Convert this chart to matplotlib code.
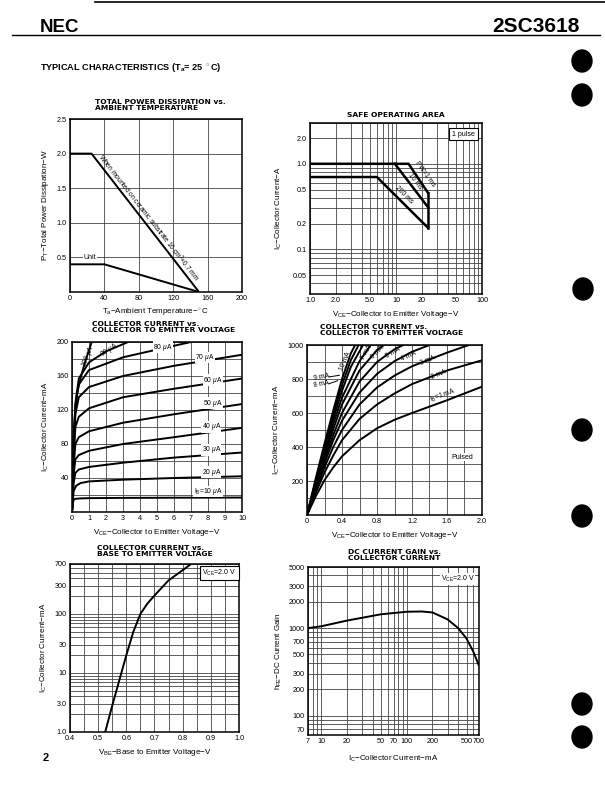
import matplotlib
matplotlib.use("Agg")
import matplotlib.pyplot as plt
from matplotlib.patches import Ellipse
from matplotlib.lines import Line2D
from matplotlib.ticker import NullFormatter, FixedLocator

W, H = 605, 788
plt.rcParams['font.family'] = ['Liberation Sans', 'DejaVu Sans']
plt.rcParams['mathtext.fontset'] = 'custom'
plt.rcParams['mathtext.rm'] = 'Liberation Sans'
plt.rcParams['mathtext.it'] = 'Liberation Sans:italic'
plt.rcParams['mathtext.bf'] = 'Liberation Sans:bold'

# ---------------- data ----------------
# Total power dissipation vs ambient temperature
pd_temp_substrate = [0, 25, 150]
pd_power_substrate = [2.0, 2.0, 0.0]
pd_temp_unit = [0, 40, 150]
pd_power_unit = [0.4, 0.4, 0.0]

# Safe operating area
soa_1ms_v = [1.0, 14, 23.6]
soa_1ms_i = [1.0, 1.0, 0.456]
soa_10ms_v = [9.7, 23.6]
soa_10ms_i = [1.0, 0.31]
soa_200ms_v = [1.0, 6.0, 23.6]
soa_200ms_i = [0.7, 0.7, 0.178]
soa_limit_v = [23.6, 23.6]
soa_limit_i = [0.456, 0.178]

# Ic vs Vce (uA base currents)
ib_ua_labels = [10, 20, 30, 40, 50, 60, 70, 80, 90, 100]
vce_small = {
    10: [0, 0.08, 0.2, 0.5, 1, 3, 6, 10],
    20: [0, 0.1, 0.25, 0.5, 1, 3, 6, 10],
    30: [0, 0.1, 0.2, 0.4, 1, 3, 6, 10],
    40: [0, 0.1, 0.2, 0.4, 1, 3, 6, 10],
    50: [0, 0.1, 0.2, 0.4, 1, 3, 6, 10],
    60: [0, 0.1, 0.2, 0.4, 1, 3, 6, 10],
    70: [0, 0.1, 0.2, 0.4, 1, 3, 6, 10],
    80: [0, 0.1, 0.2, 0.4, 1, 3, 5.2, 7.0],
    90: [0, 0.1, 0.2, 0.4, 1, 2, 3.3],
    100: [0, 0.1, 0.18, 0.3, 0.47, 0.76, 1.16],
}
ic_small = {
    10: [0, 14, 15.5, 16, 16.3, 16.6, 16.8, 17],
    20: [0, 25, 31, 34, 36, 38, 40, 42],
    30: [0, 35, 46, 50, 53, 58, 64, 70],
    40: [0, 45, 62, 67, 72, 80, 88, 99],
    50: [0, 55, 80, 88, 95, 105, 115, 127],
    60: [0, 65, 100, 112, 122, 135, 145, 157],
    70: [0, 72, 115, 135, 147, 160, 172, 185],
    80: [0, 80, 125, 150, 167, 182, 192, 200],
    90: [0, 85, 128, 157, 176, 189, 200],
    100: [0, 90, 116, 140, 155, 176, 200],
}

# Ic vs Vce (mA base currents, pulsed)
ib_ma_labels = [1, 2, 3, 4, 5, 6, 7, 8, 9, 10]
vce_large = {
    1: [0, 0.1, 0.2, 0.3, 0.4, 0.6, 0.8, 1.0, 1.2, 1.6, 2.0],
    2: [0, 0.1, 0.2, 0.3, 0.4, 0.6, 0.8, 1.0, 1.2, 1.6, 2.0],
    3: [0, 0.1, 0.2, 0.3, 0.4, 0.6, 0.8, 1.0, 1.2, 1.6, 1.85],
    4: [0, 0.1, 0.2, 0.3, 0.4, 0.6, 0.8, 1.0, 1.2, 1.4],
    5: [0, 0.1, 0.2, 0.3, 0.4, 0.6, 0.8, 1.0, 1.1],
    6: [0, 0.1, 0.2, 0.3, 0.4, 0.6, 0.8, 0.88],
    7: [0, 0.1, 0.2, 0.3, 0.4, 0.6, 0.73],
    8: [0, 0.1, 0.2, 0.3, 0.4, 0.5, 0.64],
    9: [0, 0.1, 0.2, 0.3, 0.4, 0.5, 0.59],
    10: [0, 0.1, 0.2, 0.3, 0.4, 0.5, 0.55],
}
ic_large = {
    1: [0, 110, 205, 280, 345, 440, 510, 560, 600, 675, 755],
    2: [0, 130, 250, 350, 440, 565, 650, 715, 770, 850, 910],
    3: [0, 145, 280, 400, 500, 650, 750, 820, 875, 955, 1000],
    4: [0, 155, 305, 440, 555, 720, 830, 905, 960, 1000],
    5: [0, 165, 325, 470, 600, 785, 900, 975, 1000],
    6: [0, 175, 345, 505, 650, 850, 970, 1000],
    7: [0, 185, 365, 535, 690, 905, 1000],
    8: [0, 195, 385, 565, 730, 870, 1000],
    9: [0, 205, 400, 590, 765, 910, 1000],
    10: [0, 215, 420, 615, 800, 950, 1000],
}

# Ic vs Vbe
vbe_values = [0.525, 0.55, 0.575, 0.60, 0.625, 0.65, 0.675, 0.70, 0.75, 0.80, 0.83]
ic_vbe_values = [1.0, 2.8, 7.5, 20, 50, 100, 150, 205, 370, 550, 700]

# hFE vs Ic
hfe_ic_values = [7, 10, 20, 50, 100, 150, 200, 300, 400, 500, 600, 700]
hfe_values = [1000, 1050, 1220, 1440, 1540, 1550, 1510, 1260, 1000, 760, 540, 370]

# ---------------- figure ----------------
fig = plt.figure(figsize=(W / 100, H / 100), dpi=100)


def fx(x):
    return x / W


def fy(y):
    return 1 - y / H


def add_ax(l, t, r, b):
    return fig.add_axes([l / W, 1 - b / H, (r - l) / W, (b - t) / H])


GRID = dict(color='#444444', linewidth=0.6)
CURVE = dict(color='black', linewidth=1.4, solid_capstyle='butt')
TICKFS = 5.2
LABFS = 5.8
TITFS = 5.4
LFS = 4.9


def style(ax):
    for s in ax.spines.values():
        s.set_linewidth(1.1)
    ax.tick_params(which='both', length=0, labelsize=TICKFS, pad=2.5)
    ax.set_axisbelow(True)


def fig_title(x, y, lines):
    fig.text(fx(x), fy(y), lines, fontsize=TITFS, fontweight='bold',
             family='DejaVu Sans', ha='left', va='top', linespacing=1.05)


# Header
fig.text(fx(40), fy(27), 'NEC', fontsize=13.5, fontweight='bold', ha='left', va='center')
fig.text(fx(580), fy(27), '2SC3618', fontsize=15, fontweight='bold', ha='right', va='center')
fig.add_artist(Line2D([fx(95), 1], [fy(2), fy(2)], color='black', linewidth=1.2))
fig.add_artist(Line2D([fx(12), fx(600)], [fy(35), fy(35)], color='black', linewidth=1.0))
fig.text(fx(40), fy(68), r'TYPICAL CHARACTERISTICS (T$_\mathbf{a}$= 25 $^\circ$C)',
         fontsize=6.6, fontweight='bold', ha='left', va='center')
fig.text(fx(43), fy(758), '2', fontsize=8, fontweight='bold', ha='left', va='center')

for (cx, cy) in [(582, 61), (582, 95), (583, 289), (582, 430), (582, 516), (582, 704), (582, 737)]:
    fig.add_artist(Ellipse((fx(cx), fy(cy)), 20 / W, 22 / H, color='black'))

# ---------- 1: power dissipation ----------
ax1 = add_ax(70, 119, 242, 292)
style(ax1)
ax1.set_xlim(0, 200)
ax1.set_ylim(0, 2.5)
ax1.set_xticks([0, 40, 80, 120, 160, 200])
ax1.set_yticks([0.5, 1.0, 1.5, 2.0, 2.5])
ax1.set_yticklabels(['0.5', '1.0', '1.5', '2.0', '2.5'])
ax1.grid(True, **GRID)
ax1.plot(pd_temp_substrate, pd_power_substrate, **CURVE)
ax1.plot(pd_temp_unit, pd_power_unit, **CURVE)
ax1.text(91, 1.07, r'When mounted on ceramic substrate 16 cm$^2$$\times$0.7 mm',
         fontsize=4.8, rotation=-52, ha='center', va='center', rotation_mode='anchor')
ax1.text(23, 0.5, 'Unit', fontsize=5, ha='center', va='center',
         bbox=dict(facecolor='white', edgecolor='none', pad=0.3))
ax1.set_ylabel(r'P$_\mathrm{T}$$-$Total Power Dissipation$-$W', fontsize=LABFS, labelpad=4)
ax1.set_xlabel(r'T$_\mathrm{a}$$-$Ambient Temperature$-^\circ$C', fontsize=LABFS, labelpad=3)
fig_title(95, 99, 'TOTAL POWER DISSIPATION vs.\nAMBIENT TEMPERATURE')

# ---------- 2: SOA ----------
ax2 = add_ax(310, 123, 482, 294)
style(ax2)
ax2.set_xscale('log')
ax2.set_yscale('log')
ax2.set_xlim(1, 100)
ax2.set_ylim(0.03, 3.0)
ax2.xaxis.set_major_locator(FixedLocator([1, 2, 5, 10, 20, 50, 100]))
ax2.set_xticklabels(['1.0', '2.0', '5.0', '10', '20', '50', '100'])
ax2.xaxis.set_minor_locator(FixedLocator([3, 4, 6, 7, 8, 9, 30, 40, 60, 70, 80, 90]))
ax2.yaxis.set_major_locator(FixedLocator([0.05, 0.1, 0.2, 0.5, 1.0, 2.0]))
ax2.set_yticklabels(['0.05', '0.1', '0.2', '0.5', '1.0', '2.0'])
ax2.yaxis.set_minor_locator(FixedLocator([0.03, 0.04, 0.06, 0.07, 0.08, 0.09, 0.3, 0.4,
                                          0.6, 0.7, 0.8, 0.9, 3.0]))
ax2.xaxis.set_minor_formatter(NullFormatter())
ax2.yaxis.set_minor_formatter(NullFormatter())
ax2.grid(True, which='both', **GRID)
SOA = dict(color='black', linewidth=1.8)
ax2.plot(soa_1ms_v, soa_1ms_i, **SOA)
ax2.plot(soa_10ms_v, soa_10ms_i, **SOA)
ax2.plot(soa_200ms_v, soa_200ms_i, **SOA)
ax2.plot(soa_limit_v, soa_limit_i, **SOA)
ax2.text(21.6, 0.76, 'PW=1 ms', fontsize=LFS, rotation=-54, ha='center', va='center')
ax2.text(16.8, 0.63, '10 ms', fontsize=LFS, rotation=-52, ha='center', va='center')
ax2.text(12.3, 0.43, '200 ms', fontsize=LFS, rotation=-45, ha='center', va='center')
ax2.text(0.96, 0.955, '1 pulse', transform=ax2.transAxes, fontsize=5, ha='right', va='top',
         bbox=dict(facecolor='white', edgecolor='black', linewidth=0.8, pad=2.0))
ax2.set_ylabel(r'I$_\mathrm{C}$$-$Collector Current$-$A', fontsize=LABFS, labelpad=6)
ax2.set_xlabel(r'V$_\mathrm{CE}$$-$Collector to Emitter Voltage$-$V', fontsize=LABFS, labelpad=3)
fig.text(fx(396), fy(115), 'SAFE OPERATING AREA', fontsize=TITFS, fontweight='bold',
         family='DejaVu Sans', ha='center', va='center')

# ---------- 3: Ic vs Vce (uA) ----------
ax3 = add_ax(72, 342, 242, 512)
style(ax3)
ax3.set_xlim(0, 10)
ax3.set_ylim(0, 200)
ax3.set_xticks(range(0, 11))
ax3.set_yticks([40, 80, 120, 160, 200])
ax3.yaxis.set_minor_locator(FixedLocator([20, 60, 100, 140, 180]))
ax3.grid(True, which='both', **GRID)
for ib in ib_ua_labels:
    ax3.plot(vce_small[ib], ic_small[ib], **CURVE)
LB = dict(facecolor='white', edgecolor='none', pad=0.2)
ax3.text(0.95, 183, r'100 $\mu$A', fontsize=LFS, rotation=68, ha='center', va='center')
ax3.text(2.2, 190, r'90 $\mu$A', fontsize=LFS, rotation=33, ha='center', va='center')
for (x, y, s) in [(5.35, 194, r'80 $\mu$A'), (7.8, 182, r'70 $\mu$A'), (8.3, 155, r'60 $\mu$A'),
                  (8.3, 128, r'50 $\mu$A'), (8.2, 100, r'40 $\mu$A'), (8.2, 73, r'30 $\mu$A'),
                  (8.2, 47, r'20 $\mu$A'), (8.0, 24, r'I$_\mathrm{B}$=10 $\mu$A')]:
    ax3.text(x, y, s, fontsize=LFS, ha='center', va='center', bbox=LB)
ax3.set_ylabel(r'I$_\mathrm{C}$$-$Collector Current$-$mA', fontsize=LABFS, labelpad=4)
ax3.set_xlabel(r'V$_\mathrm{CE}$$-$Collector to Emitter Voltage$-$V', fontsize=LABFS, labelpad=3)
fig_title(92, 321, 'COLLECTOR CURRENT vs.\nCOLLECTOR TO EMITTER VOLTAGE')

# ---------- 4: Ic vs Vce (mA) ----------
ax4 = add_ax(307, 345, 482, 515)
style(ax4)
ax4.set_xlim(0, 2.0)
ax4.set_ylim(0, 1000)
ax4.set_xticks([0, 0.4, 0.8, 1.2, 1.6, 2.0])
ax4.set_xticklabels(['0', '0.4', '0.8', '1.2', '1.6', '2.0'])
ax4.xaxis.set_minor_locator(FixedLocator([0.2, 0.6, 1.0, 1.4, 1.8]))
ax4.set_yticks([200, 400, 600, 800, 1000])
ax4.yaxis.set_minor_locator(FixedLocator([100, 300, 500, 700, 900]))
ax4.grid(True, which='both', **GRID)
for ib in ib_ma_labels:
    ax4.plot(vce_large[ib], ic_large[ib], **CURVE)
ax4.text(0.44, 905, '10 mA', fontsize=LFS, rotation=68, ha='center', va='center')
ax4.text(0.68, 955, '7 mA', fontsize=LFS, rotation=60, ha='center', va='center')
ax4.text(0.81, 955, '6 mA', fontsize=LFS, rotation=45, ha='center', va='center')
ax4.text(0.98, 955, '5 mA', fontsize=LFS, rotation=30, ha='center', va='center')
ax4.text(1.16, 935, '4 mA', fontsize=LFS, rotation=25, ha='center', va='center')
ax4.text(1.38, 905, '3 mA', fontsize=LFS, rotation=22, ha='center', va='center')
ax4.text(1.5, 825, '2 mA', fontsize=LFS, rotation=22, ha='center', va='center')
ax4.text(1.55, 705, r'I$_\mathrm{B}$=1 mA', fontsize=LFS, rotation=20, ha='center', va='center')
ax4.text(0.17, 808, '9 mA', fontsize=LFS, rotation=10, ha='center', va='center')
ax4.text(0.17, 768, '8 mA', fontsize=LFS, rotation=10, ha='center', va='center')
ax4.plot([0.25, 0.37], [812, 822], color='black', linewidth=0.7)
ax4.plot([0.25, 0.35], [772, 790], color='black', linewidth=0.7)
ax4.text(1.78, 340, 'Pulsed', fontsize=5, ha='center', va='center', bbox=LB)
ax4.set_ylabel(r'I$_\mathrm{C}$$-$Collector Current$-$mA', fontsize=LABFS, labelpad=4)
ax4.set_xlabel(r'V$_\mathrm{CE}$$-$Collector to Emitter Voltage$-$V', fontsize=LABFS, labelpad=3)
fig_title(320, 324, 'COLLECTOR CURRENT vs.\nCOLLECTOR TO EMITTER VOLTAGE')

# ---------- 5: Ic vs Vbe ----------
ax5 = add_ax(70, 564, 239, 732)
style(ax5)
ax5.set_yscale('log')
ax5.set_xlim(0.4, 1.0)
ax5.set_ylim(1.0, 700)
ax5.set_xticks([0.4, 0.5, 0.6, 0.7, 0.8, 0.9, 1.0])
ax5.set_xticklabels(['0.4', '0.5', '0.6', '0.7', '0.8', '0.9', '1.0'])
ax5.xaxis.set_minor_locator(FixedLocator([0.45, 0.55, 0.65, 0.75, 0.85, 0.95]))
ax5.yaxis.set_major_locator(FixedLocator([1, 3, 10, 30, 100, 300, 700]))
ax5.set_yticklabels(['1.0', '3.0', '10', '30', '100', '300', '700'])
ax5.yaxis.set_minor_locator(FixedLocator([2, 4, 5, 6, 7, 8, 9, 20, 40, 50, 60, 70, 80, 90,
                                          200, 400, 500, 600]))
ax5.yaxis.set_minor_formatter(NullFormatter())
ax5.grid(True, which='both', **GRID)
ax5.plot(vbe_values, ic_vbe_values, **CURVE)
ax5.text(0.985, 0.975, r'V$_\mathrm{CE}$=2.0 V', transform=ax5.transAxes, fontsize=5,
         ha='right', va='top',
         bbox=dict(facecolor='white', edgecolor='black', linewidth=0.8, pad=1.5))
ax5.set_ylabel(r'I$_\mathrm{C}$$-$Collector Current$-$mA', fontsize=LABFS, labelpad=4)
ax5.set_xlabel(r'V$_\mathrm{BE}$$-$Base to Emitter Voltage$-$V', fontsize=LABFS, labelpad=3)
fig_title(97, 545, 'COLLECTOR CURRENT vs.\nBASE TO EMITTER VOLTAGE')

# ---------- 6: hFE vs Ic ----------
ax6 = add_ax(308, 567, 479, 735)
style(ax6)
ax6.set_xscale('log')
ax6.set_yscale('log')
ax6.set_xlim(7, 700)
ax6.set_ylim(60, 5000)
ax6.xaxis.set_major_locator(FixedLocator([7, 10, 20, 50, 70, 100, 200, 500, 700]))
ax6.set_xticklabels(['7', '10', '20', '50', '70', '100', '200', '500', '700'])
ax6.xaxis.set_minor_locator(FixedLocator([8, 9, 30, 40, 60, 80, 90, 300, 400, 600]))
ax6.xaxis.set_minor_formatter(NullFormatter())
ax6.yaxis.set_major_locator(FixedLocator([70, 100, 200, 300, 500, 700, 1000, 2000, 3000, 5000]))
ax6.set_yticklabels(['70', '100', '200', '300', '500', '700', '1000', '2000', '3000', '5000'])
ax6.yaxis.set_minor_locator(FixedLocator([80, 90, 400, 600, 800, 900, 4000]))
ax6.yaxis.set_minor_formatter(NullFormatter())
ax6.grid(True, which='both', **GRID)
ax6.plot(hfe_ic_values, hfe_values, **CURVE)
ax6.text(0.975, 0.96, r'V$_\mathrm{CE}$=2.0 V', transform=ax6.transAxes, fontsize=5,
         ha='right', va='top', bbox=dict(facecolor='white', edgecolor='none', pad=0.5))
ax6.set_ylabel(r'h$_\mathrm{FE}$$-$DC Current Gain', fontsize=LABFS, labelpad=3)
ax6.set_xlabel(r'I$_\mathrm{C}$$-$Collector Current$-$mA', fontsize=LABFS, labelpad=6)
fig_title(348, 549, 'DC CURRENT GAIN vs.\nCOLLECTOR CURRENT')

fig.savefig('out.png', dpi=100)
